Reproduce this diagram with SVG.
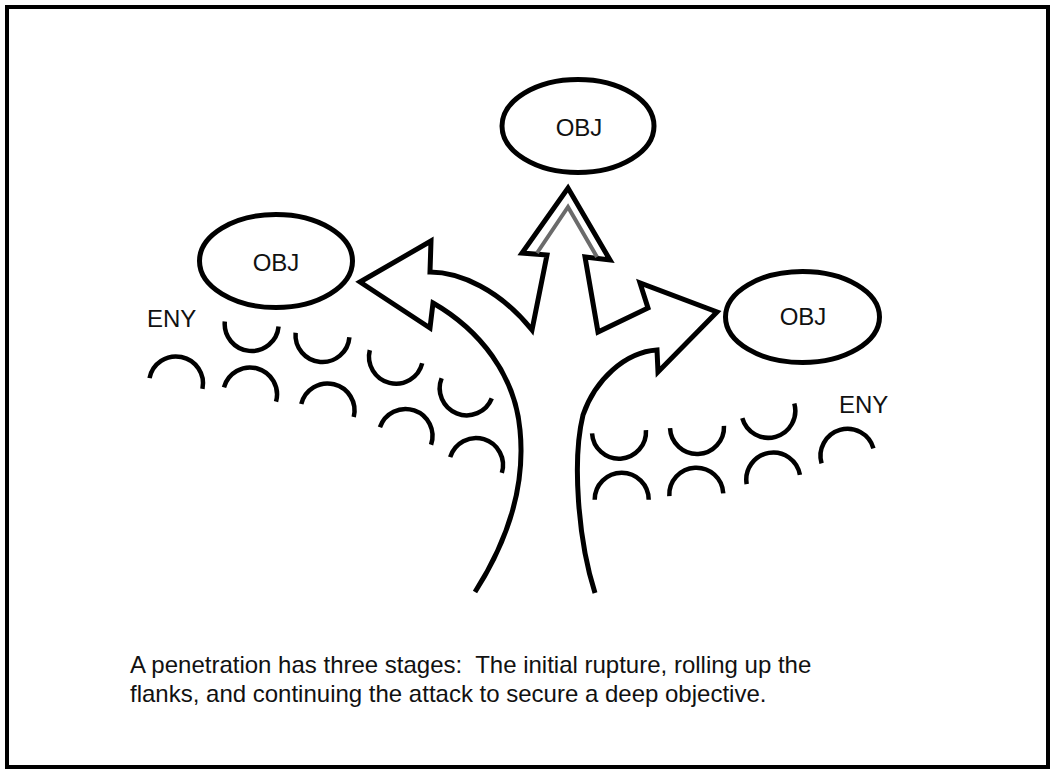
<svg xmlns="http://www.w3.org/2000/svg" width="1061" height="780" viewBox="0 0 1061 780">
<style>
.t{font-family:"Liberation Sans",Arial,sans-serif;font-size:24px;fill:#111}
.obj{fill:#fff;stroke:#000;stroke-width:5}
.arc{fill:none;stroke:#000;stroke-width:4.5}
.out{fill:none;stroke:#000;stroke-width:5;stroke-linejoin:miter;stroke-miterlimit:10}
</style>
<defs>
<path id="cap" d="M-27 0A27 27 0 0 1 27 0"/>
<path id="cup" d="M-27 0A27 27 0 0 0 27 0"/>
</defs>
<rect x="0" y="0" width="1061" height="780" fill="#fff"/>
<rect x="7" y="7" width="1041" height="760" fill="none" stroke="#000" stroke-width="4"/>
<g id="connectors">
<path class="out" d="M475 592C505 545 526 490 520 430C515 375 480 330 433 303L430 328L360 282L431 241L430 272C460 272 500 290 532 330L547 255L522 253L568 188L610 260L585 257L598 332L648 308L640 283L717 312L658 372L657 350C625 352 595 380 583 415C572 460 578 540 595 593"/>
<path d="M537 253L568 207L597 257" fill="none" stroke="#6b6b6b" stroke-width="4"/>
</g>
<g id="obj-top">
<ellipse class="obj" cx="578" cy="126" rx="76" ry="46.5"/>
<text class="t" x="579" y="136" text-anchor="middle">OBJ</text>
</g>
<g id="obj-left">
<ellipse class="obj" cx="276" cy="261" rx="76.5" ry="46.5"/>
<text class="t" x="276" y="271" text-anchor="middle">OBJ</text>
</g>
<g id="obj-right">
<ellipse class="obj" cx="802.5" cy="317" rx="77" ry="45.5"/>
<text class="t" x="803" y="325" text-anchor="middle">OBJ</text>
</g>
<g id="eny-left">
<text class="t" x="147" y="327">ENY</text>
<use href="#cup" class="arc" transform="translate(251.7 324) rotate(5.4)"/>
<use href="#cup" class="arc" transform="translate(322.5 335) rotate(4.8)"/>
<use href="#cup" class="arc" transform="translate(396 356.7) rotate(14)"/>
<use href="#cup" class="arc" transform="translate(466.7 388.3) rotate(21.8)"/>
<use href="#cap" class="arc" transform="translate(176 383.5) rotate(11.5)"/>
<use href="#cap" class="arc" transform="translate(250 394.5) rotate(15.5)"/>
<use href="#cap" class="arc" transform="translate(327.5 410.5) rotate(13.8)"/>
<use href="#cap" class="arc" transform="translate(405.5 436) rotate(18.8)"/>
<use href="#cap" class="arc" transform="translate(476 465) rotate(17)"/>
</g>
<g id="eny-right">
<text class="t" x="839" y="413">ENY</text>
<use href="#cup" class="arc" transform="translate(619 431.7) rotate(-3.5)"/>
<use href="#cup" class="arc" transform="translate(697 427) rotate(-2.5)"/>
<use href="#cup" class="arc" transform="translate(768.3 410.8) rotate(-15.7)"/>
<use href="#cap" class="arc" transform="translate(621.7 499.7)"/>
<use href="#cap" class="arc" transform="translate(696.3 494.7) rotate(-2.9)"/>
<use href="#cap" class="arc" transform="translate(773.3 479.5) rotate(-9.6)"/>
<use href="#cap" class="arc" transform="translate(847.5 455.8) rotate(-16.2)"/>
</g>
<g id="caption">
<text class="t" x="130" y="673" xml:space="preserve">A penetration has three stages:  The initial rupture, rolling up the</text>
<text class="t" x="130" y="702">flanks, and continuing the attack to secure a deep objective.</text>
</g>
</svg>
